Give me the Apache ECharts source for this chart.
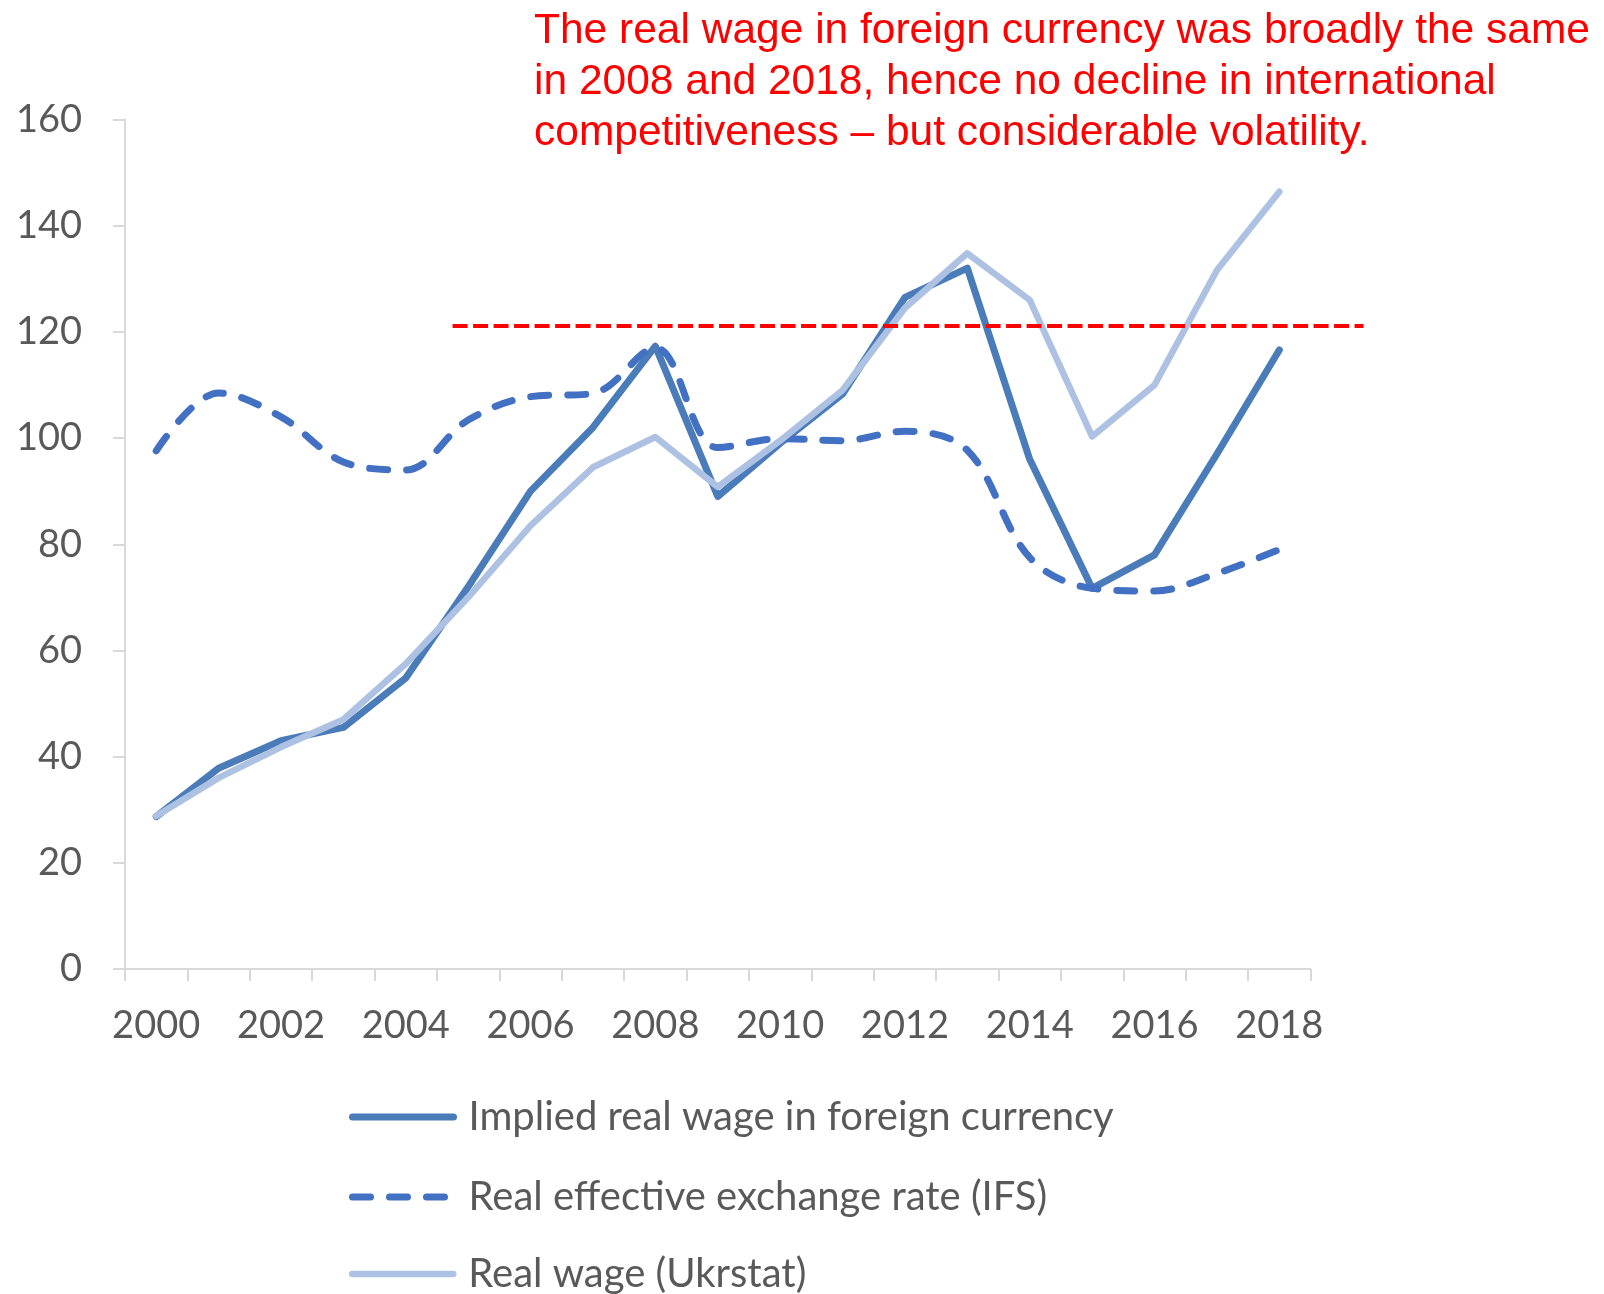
<!DOCTYPE html>
<html>
<head>
<meta charset="utf-8">
<title>Ukraine: real wage in foreign currency</title>
<script src="https://cdn.jsdelivr.net/npm/echarts@6/dist/echarts.min.js"></script>
<style>
  html, body { margin: 0; padding: 0; background: #ffffff; }
  #chart { width: 1604px; height: 1294px; }
</style>
</head>
<body>
<div id="chart"></div>
<script>
// Years on the category axis
const years = ['2000', '2001', '2002', '2003', '2004', '2005', '2006', '2007', '2008', '2009',
               '2010', '2011', '2012', '2013', '2014', '2015', '2016', '2017', '2018'];

// Implied real wage in foreign currency (index)
const impliedWage = [28.7, 37.8, 43.0, 45.5, 54.8, 72.0, 90.0, 102.0, 117.3, 89.0,
                     99.0, 108.3, 126.5, 132.0, 96.0, 71.7, 78.0, 97.0, 116.6];

// Real effective exchange rate, IFS (index)
const reer = [97.6, 108.5, 104.0, 95.5, 94.0, 103.4, 107.8, 108.4, 117.0, 98.2,
              99.9, 99.5, 101.3, 97.7, 77.5, 71.7, 71.2, 74.5, 79.0];

// Real wage, Ukrstat (index)
const realWage = [28.8, 36.0, 41.8, 47.0, 57.5, 70.0, 83.5, 94.5, 100.2, 90.8,
                  99.5, 109.0, 124.5, 134.8, 126.0, 100.3, 110.0, 131.6, 146.4];

// Value axis range and step
const yMin = 0, yMax = 160, yStep = 20;

// Reference level and the span (in years) the dashed red line covers
const refLevel = 121.1;
const refSpan = [2004.75, 2019.35];

const seriesNames = [
  'Implied real wage in foreign currency',
  'Real effective exchange rate (IFS)',
  'Real wage (Ukrstat)'
];

const note = 'The real wage in foreign currency was broadly the same\n' +
             'in 2008 and 2018, hence no decline in international\n' +
             'competitiveness \u2013 but considerable volatility.';

const labelFont = 'Lato, "Open Sans", sans-serif';
const gray = '#595959';
const axisGray = '#d9d9d9';

// Plot geometry: one category slot is (plot width / number of years) wide
const plotLeft = 125, plotRight = 293.5, plotTop = 119.5, plotBottom = 325;
const chartWidth = 1604;
const slot = (chartWidth - plotLeft - plotRight) / years.length;
// Overlay grid shares the same origin and scale but reaches further right,
// so the annotation line can run past the last year without being clipped.
const overlayMax = 20.5;
const overlayRight = chartWidth - plotLeft - slot * (overlayMax + 0.5);

const chart = echarts.init(document.getElementById('chart'), null, { renderer: 'canvas' });

function legendFor(i, top) {
  return {
    orient: 'vertical',
    left: 349,
    top: top,
    padding: 0,
    itemWidth: 101,
    itemHeight: 20,
    data: [seriesNames[i]],
    selectedMode: false,
    lineStyle: { width: 'inherit', cap: 'round' },
    itemStyle: { color: 'rgba(0,0,0,0)', borderWidth: 0, opacity: 0 },
    textStyle: {
      color: gray,
      fontFamily: labelFont,
      fontSize: 40,
      lineHeight: 42,
      padding: [0, 0, 0, 10]
    }
  };
}

chart.setOption({
  backgroundColor: '#ffffff',
  animation: false,
  title: {
    text: note,
    left: 534,
    top: 6,
    padding: 0,
    textStyle: {
      color: '#ff0000',
      fontFamily: '"Liberation Sans", Arial, sans-serif',
      fontSize: 42.5,
      fontWeight: 'normal',
      lineHeight: 51
    }
  },
  grid: [
    {
      left: plotLeft, right: plotRight, top: plotTop, bottom: plotBottom,
      containLabel: false, outerBoundsMode: 'none'
    },
    {
      left: plotLeft, right: overlayRight, top: plotTop, bottom: plotBottom,
      containLabel: false, outerBoundsMode: 'none'
    }
  ],
  legend: [
    legendFor(0, 1096),
    legendFor(1, 1176),
    legendFor(2, 1253)
  ],
  xAxis: [
    {
      type: 'category',
      gridIndex: 0,
      data: years,
      boundaryGap: true,
      axisLine: { show: true, onZero: false, lineStyle: { color: axisGray, width: 2 } },
      axisTick: { show: true, interval: 0, length: 12, lineStyle: { color: axisGray, width: 2 } },
      axisLabel: {
        interval: 1,
        margin: 38,
        color: gray,
        fontFamily: labelFont,
        fontSize: 38
      },
      splitLine: { show: false }
    },
    {
      // numeric year offset (0 = 2000) for the overlay grid
      type: 'value',
      gridIndex: 1,
      min: -0.5,
      max: overlayMax,
      show: false,
      splitLine: { show: false }
    }
  ],
  yAxis: [
    {
      type: 'value',
      gridIndex: 0,
      min: yMin,
      max: yMax,
      interval: yStep,
      axisLine: { show: true, onZero: false, lineStyle: { color: axisGray, width: 2 } },
      axisTick: { show: true, length: 12, lineStyle: { color: axisGray, width: 2 } },
      axisLabel: {
        margin: 43,
        color: gray,
        fontFamily: labelFont,
        fontSize: 38
      },
      splitLine: { show: false }
    },
    {
      type: 'value',
      gridIndex: 1,
      min: yMin,
      max: yMax,
      show: false,
      splitLine: { show: false }
    }
  ],
  series: [
    {
      name: seriesNames[0],
      type: 'line',
      data: impliedWage,
      symbol: 'none',
      lineStyle: { color: '#4a7cba', width: 7, cap: 'round', join: 'round' },
      itemStyle: { color: '#4a7cba' },
      z: 2
    },
    {
      name: seriesNames[1],
      type: 'line',
      data: reer,
      symbol: 'none',
      smooth: 0.35,
      lineStyle: { color: '#4270c2', width: 7, type: [18, 19], cap: 'round', join: 'round' },
      itemStyle: { color: '#4270c2' },
      z: 3
    },
    {
      name: seriesNames[2],
      type: 'line',
      data: realWage,
      symbol: 'none',
      lineStyle: { color: '#adc1e2', width: 6.5, cap: 'round', join: 'round' },
      itemStyle: { color: '#adc1e2' },
      z: 4
    },
    {
      name: 'reference level',
      type: 'line',
      xAxisIndex: 1,
      yAxisIndex: 1,
      data: [[refSpan[0] - 2000, refLevel], [refSpan[1] - 2000, refLevel]],
      symbol: 'none',
      silent: true,
      lineStyle: { color: '#ff0000', width: 4, type: [15, 5.5], cap: 'butt' },
      z: 5
    }
  ]
});
</script>
</body>
</html>
